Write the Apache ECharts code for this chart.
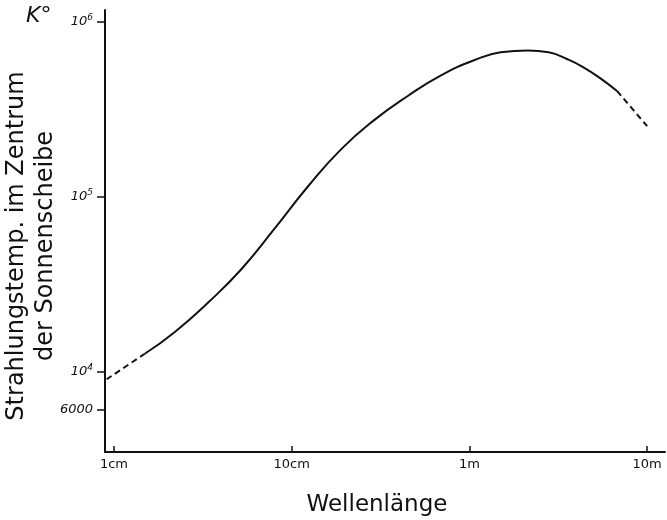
<!DOCTYPE html>
<html>
<head>
<meta charset="utf-8">
<script src="https://cdn.jsdelivr.net/npm/echarts@6/dist/echarts.min.js"></script>
<style>
  html, body { margin: 0; padding: 0; background: #fff; }
  #chart { width: 667px; height: 520px; }
</style>
</head>
<body>
<div id="chart"></div>
<script>
// wavelength in cm, radiation temperature at disc centre in K
const wavelengthCm = [0.91, 1.49, 2.2, 3.41, 5.22, 7.9, 12.4, 19.0, 29.1, 45.2, 69.2, 106, 150, 213, 279, 356, 438, 546, 679, 1000]
const tempK = [9000, 12600, 16800, 24900, 38500, 64400, 115000, 187000, 274000, 378000, 494000, 603000, 670000, 687000, 670000, 611000, 550000, 475000, 401000, 253000]
// index where the solid part begins / ends (dashed outside)
const solidFrom = 1
const solidTo = 18

const xTicks = [1, 10, 100, 1000]
const xTickLabels = { 1: '1cm', 10: '10cm', 100: '1m', 1000: '10m' }
const yTicks = [6000, 1e4, 1e5, 1e6]
const yTickLabels = { 6000: '{b|6000}', 10000: '{b|10}{s|4}', 100000: '{b|10}{s|5}', 1000000: '{b|10}{s|6}' }

const pts = wavelengthCm.map((x, i) => [x, tempK[i]])
const lowDash = pts.slice(0, solidFrom + 1)
const solid = pts.slice(solidFrom, solidTo + 1)
const highDash = pts.slice(solidTo)

const ink = '#111'
const font = 'DejaVu Sans'

const chart = echarts.init(document.getElementById('chart'))
const lineSeries = (data, dashed) => ({
  type: 'line',
  data: data,
  smooth: 0.5,
  symbol: 'none',
  lineStyle: { color: ink, width: 2, type: dashed ? [6, 4] : 'solid' }
})

chart.setOption({
  animation: false,
  grid: { left: 105, right: 2, top: 10, bottom: 68, outerBoundsMode: 'none' },
  xAxis: {
    type: 'log',
    logBase: 10,
    min: 0.89,
    max: 1260,
    name: 'Wellenlänge',
    nameLocation: 'middle',
    nameGap: 42,
    nameMoveOverlap: false,
    nameTextStyle: { color: ink, fontSize: 23, fontFamily: font, padding: [0, 16, 0, 0] },
    axisLine: { lineStyle: { color: ink, width: 2 } },
    axisTick: { inside: true, length: 6, customValues: xTicks, lineStyle: { color: ink, width: 1.5 } },
    minorTick: { show: false },
    splitLine: { show: false },
    axisLabel: {
      customValues: xTicks,
      color: ink,
      fontSize: 13,
      fontFamily: font,
      margin: 6,
      formatter: v => xTickLabels[Math.round(v)] || ''
    }
  },
  yAxis: {
    type: 'log',
    logBase: 10,
    min: 3450,
    max: 1.17e6,
    name: 'Strahlungstemp. im Zentrum\nder Sonnenscheibe',
    nameLocation: 'middle',
    nameRotate: 90,
    nameGap: 45,
    nameMoveOverlap: false,
    nameTextStyle: { color: ink, fontSize: 24, fontFamily: font, lineHeight: 29, padding: [0, 30, 0, 0] },
    axisLine: { lineStyle: { color: ink, width: 2 } },
    axisTick: { inside: false, length: 8, customValues: yTicks, lineStyle: { color: ink, width: 1.5 } },
    splitLine: { show: false },
    axisLabel: {
      customValues: yTicks,
      margin: 12,
      formatter: v => yTickLabels[Math.round(v)] || '',
      rich: {
        b: { color: ink, fontSize: 13, fontStyle: 'italic', fontFamily: font },
        s: { color: ink, fontSize: 9, fontStyle: 'italic', fontFamily: font, verticalAlign: 'top', padding: [0, 0, 8, 0] }
      }
    }
  },
  graphic: [{
    type: 'text',
    left: 26,
    top: 5,
    style: { text: 'K°', fill: ink, fontSize: 22, fontStyle: 'italic', fontFamily: font }
  }],
  series: [lineSeries(lowDash, true), lineSeries(solid, false), lineSeries(highDash, true)]
})
</script>
</body>
</html>
